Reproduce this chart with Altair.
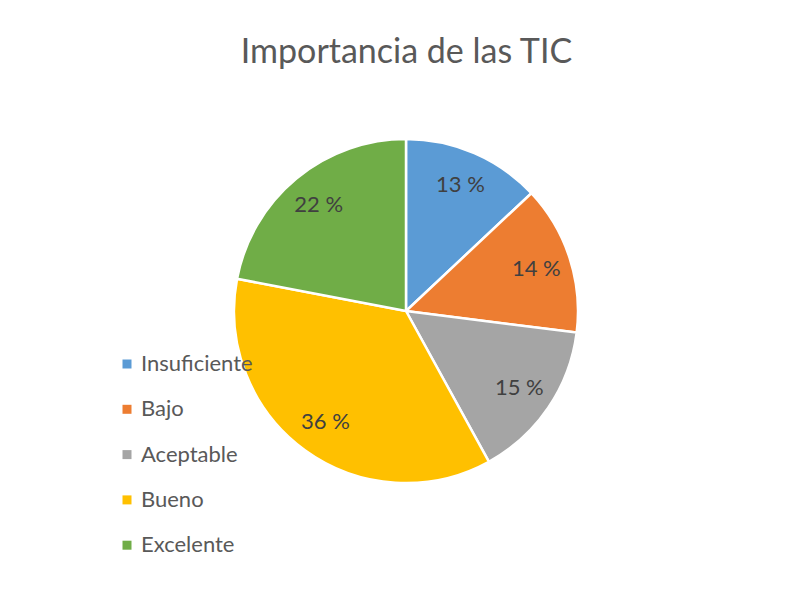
import altair as alt
import pandas as pd

categories = ["Insuficiente", "Bajo", "Aceptable", "Bueno", "Excelente"]
values = [13, 14, 15, 36, 22]
labels = ["13 %", "14 %", "15 %", "36 %", "22 %"]
colors = ["#5B9BD5", "#ED7D31", "#A5A5A5", "#FFC000", "#70AD47"]

df = pd.DataFrame({
    "cat": categories,
    "value": values,
    "label": labels,
    "idx": list(range(len(categories))),
})

base = alt.Chart(df).encode(
    theta=alt.Theta("value:Q", stack=True),
    order=alt.Order("idx:Q"),
)

pie = base.mark_arc(outerRadius=172, stroke="white", strokeWidth=2.5).encode(
    x=alt.value(398),
    y=alt.value(243),
    color=alt.Color(
        "cat:N",
        scale=alt.Scale(domain=categories, range=colors),
        sort=categories,
        legend=alt.Legend(
            title=None,
            orient="none",
            legendX=108,
            legendY=285,
            symbolType="square",
            symbolSize=81,
            symbolStrokeWidth=0,
            labelFont="Lato",
            labelFontSize=22,
            labelColor="#595959",
            labelOffset=3,
            rowPadding=23.3,
            padding=0,
        ),
    ),
)

text = base.mark_text(
    radius=137, font="Lato", fontSize=22, color="#404040"
).encode(
    x=alt.value(398),
    y=alt.value(243),
    text="label:N",
)

chart = (
    alt.layer(pie, text)
    .properties(
        width=785,
        height=520,
        background="white",
        padding={"left": 0, "top": 60, "right": 0, "bottom": 0},
        autosize=alt.AutoSizeParams(type="none"),
        title=alt.Title(
            "Importancia de las TIC",
            font="Lato",
            fontSize=34,
            fontWeight="normal",
            color="#595959",
            anchor="middle",
            offset=-2,
            dx=6,
        ),
    )
    .configure_view(stroke="transparent", strokeWidth=0)
)

chart.save("out.html", embed_options={"renderer": "svg", "actions": False})
